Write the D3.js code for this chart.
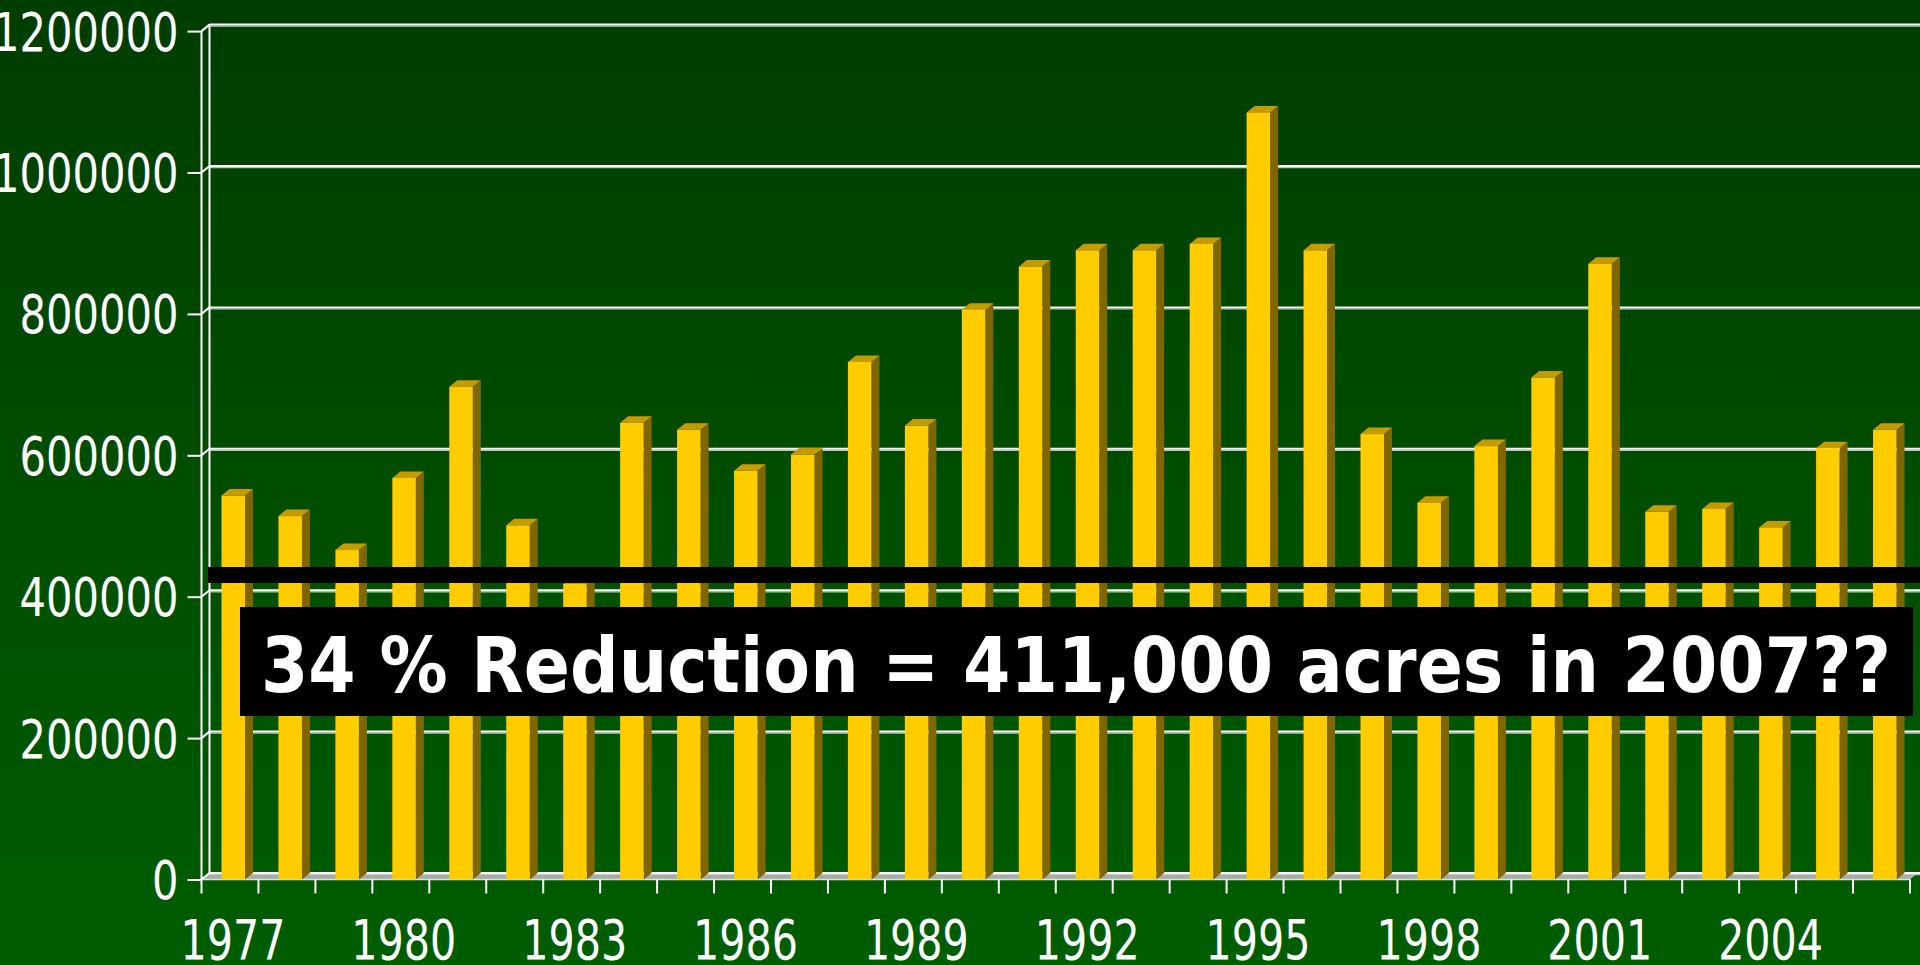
<!DOCTYPE html>
<html>
<head>
<meta charset="utf-8">
<script src="https://cdn.jsdelivr.net/npm/d3@7"></script>
<style>
  html, body { margin: 0; padding: 0; overflow: hidden; }
  svg { display: block; }
</style>
</head>
<body>
<script>
// ---- data ----
const years = [1977, 1978, 1979, 1980, 1981, 1982, 1983, 1984, 1985, 1986,
               1987, 1988, 1989, 1990, 1991, 1992, 1993, 1994, 1995, 1996,
               1997, 1998, 1999, 2000, 2001, 2002, 2003, 2004, 2005, 2006];
const acres = [543000, 514000, 466000, 568000, 697000, 501000, 418000, 646000, 636000, 578000,
               601000, 732000, 642000, 806000, 867000, 890000, 890000, 899000, 1085000, 890000,
               630000, 533000, 613000, 710000, 871000, 520000, 524000, 498000, 610000, 636000];
const yTicks = [0, 200000, 400000, 600000, 800000, 1000000, 1200000];
const xTickLabels = [1977, 1980, 1983, 1986, 1989, 1992, 1995, 1998, 2001, 2004];
const bannerText = "34 % Reduction = 411,000 acres in 2007??";

// ---- layout ----
const W = 1920, H = 965;
const DX = 8, DY = 6.5;            // 3-D depth offset
const svg = d3.select("body").append("svg").attr("width", W).attr("height", H);

const defs = svg.append("defs");
const grad = defs.append("linearGradient").attr("id", "bg").attr("x1", 0).attr("y1", 0).attr("x2", 0).attr("y2", 1);
grad.append("stop").attr("offset", "0%").attr("stop-color", "#003d00");
grad.append("stop").attr("offset", "100%").attr("stop-color", "#005d00");
svg.append("rect").attr("width", W).attr("height", H).attr("fill", "url(#bg)");

const x = d3.scaleBand().domain(years).range([201.5, 1910]).padding(0);
const y = d3.scaleLinear().domain([0, 1200000]).range([879.5, 31.1]);
const bw = x.bandwidth();
const x0 = 201.5, x1 = 1910;

// floor
svg.append("polygon")
  .attr("points", [[x0, y(0)], [x1, y(0)], [x1 + DX, y(0) - DY], [x0 + DX, y(0) - DY]].map(p => p.join(",")).join(" "))
  .attr("fill", "#a9a9a9");

// back-wall gridlines
const grid = svg.append("g");
yTicks.forEach(t => {
  const yy = y(t) - DY;
  grid.append("line").attr("x1", x0 + DX).attr("x2", W).attr("y1", yy + 1.6).attr("y2", yy + 1.6)
    .attr("stroke", "#b8c8b8").attr("stroke-width", 1.2);
  grid.append("line").attr("x1", x0 + DX).attr("x2", W).attr("y1", yy).attr("y2", yy)
    .attr("stroke", "#ffffff").attr("stroke-width", 2);
  // side-wall diagonal
  grid.append("line").attr("x1", x0).attr("x2", x0 + DX).attr("y1", y(t)).attr("y2", yy)
    .attr("stroke", "#ffffff").attr("stroke-width", 2);
});
// back wall left edge and front axis line
grid.append("line").attr("x1", x0 + DX).attr("x2", x0 + DX).attr("y1", y(1200000) - DY).attr("y2", y(0) - DY)
  .attr("stroke", "#ffffff").attr("stroke-width", 2);
grid.append("line").attr("x1", x0).attr("x2", x0).attr("y1", y(1200000)).attr("y2", y(0))
  .attr("stroke", "#ffffff").attr("stroke-width", 2);

// y axis ticks + labels
const yAxis = d3.axisLeft(y).tickValues(yTicks).tickSize(14).tickPadding(9).tickFormat(d3.format("d"));
const yg = svg.append("g").attr("transform", `translate(${x0},0)`).call(yAxis);
yg.select(".domain").remove();
yg.selectAll(".tick line").attr("stroke", "#ffffff").attr("stroke-width", 2);
yg.selectAll(".tick text")
  .attr("fill", "#ffffff")
  .attr("font-family", "DejaVu Sans, Verdana, sans-serif")
  .attr("font-size", 53)
  .attr("dy", "0.36em")
  .attr("x", -23)
  .attr("textLength", d => String(d).length * 26.5)
  .attr("lengthAdjust", "spacingAndGlyphs");

// x axis: front edge, ticks at category boundaries, labels every 3 years
svg.append("line").attr("x1", x0).attr("x2", x1).attr("y1", y(0)).attr("y2", y(0))
  .attr("stroke", "#dddddd").attr("stroke-width", 1.5);
const bounds = years.map(d => x(d)).concat([x1]);
svg.append("g").selectAll("line").data(bounds).join("line")
  .attr("x1", d => d).attr("x2", d => d)
  .attr("y1", y(0)).attr("y2", y(0) + 14)
  .attr("stroke", "#ffffff").attr("stroke-width", 2);
svg.append("g").selectAll("text").data(xTickLabels).join("text")
  .attr("x", d => x(d) + bw / 2 + 3)
  .attr("y", 959)
  .attr("text-anchor", "middle")
  .attr("fill", "#ffffff")
  .attr("font-family", "DejaVu Sans, Verdana, sans-serif")
  .attr("font-size", 55)
  .attr("textLength", 105)
  .attr("lengthAdjust", "spacingAndGlyphs")
  .text(d => d);

// bars (3-D columns)
const data = years.map((yr, i) => ({ yr, v: acres[i] }));
const bars = svg.append("g").selectAll("g").data(data).join("g");
const fw = 23.5, off = 20;
bars.append("polygon") // side
  .attr("points", d => {
    const l = x(d.yr) + off + fw, t = y(d.v), b = y(0);
    return [[l, b], [l, t], [l + DX, t - DY], [l + DX, b - DY]].map(p => p.join(",")).join(" ");
  })
  .attr("fill", "#806600");
bars.append("polygon") // top
  .attr("points", d => {
    const l = x(d.yr) + off, t = y(d.v);
    return [[l, t], [l + fw, t], [l + fw + DX, t - DY], [l + DX, t - DY]].map(p => p.join(",")).join(" ");
  })
  .attr("fill", "#c49c00");
bars.append("rect") // front
  .attr("x", d => x(d.yr) + off)
  .attr("y", d => y(d.v))
  .attr("width", fw)
  .attr("height", d => y(0) - y(d.v))
  .attr("fill", "#ffcc00");

// annotation banners
svg.append("rect").attr("x", 208).attr("y", 567).attr("width", W - 208).attr("height", 16).attr("fill", "#000000");
svg.append("rect").attr("x", 240).attr("y", 607).attr("width", 1673).attr("height", 109).attr("fill", "#000000");
svg.append("text")
  .attr("x", 261).attr("y", 692)
  .attr("fill", "#ffffff")
  .attr("font-family", "DejaVu Sans, Verdana, sans-serif")
  .attr("font-weight", "bold")
  .attr("font-size", 76)
  .attr("textLength", 1630)
  .attr("lengthAdjust", "spacingAndGlyphs")
  .text(bannerText);
</script>
</body>
</html>
